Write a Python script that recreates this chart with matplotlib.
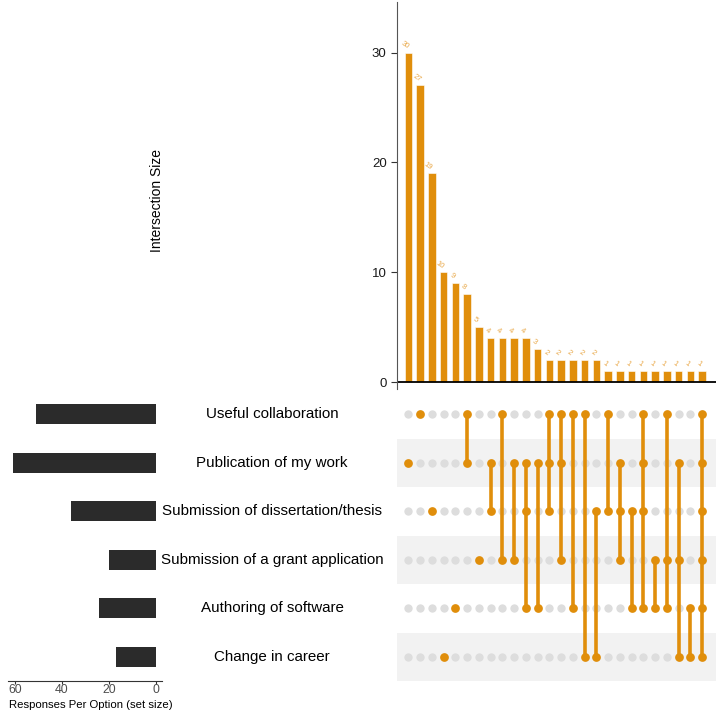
import numpy as np
import matplotlib
matplotlib.use("Agg")
import matplotlib.pyplot as plt
from matplotlib.transforms import blended_transform_factory

plt.rcParams["font.family"] = ["Liberation Sans", "DejaVu Sans"]

# -----------------------
# Data
# -----------------------
set_names = ["Useful collaboration", "Publication of my work",
             "Submission of dissertation/thesis", "Submission of a grant application",
             "Authoring of software", "Change in career"]

intersection_sizes = [30, 27, 19, 10, 9, 8, 5, 4, 4, 4, 4, 3, 2, 2, 2, 2, 2,
                      1, 1, 1, 1, 1, 1, 1, 1, 1]

# which sets (row index) take part in each intersection column
memberships = [[1], [0], [2], [5], [4], [0, 1], [3], [1, 2], [0, 3], [1, 3],
               [1, 2, 4], [1, 4], [0, 1, 2], [0, 1, 3], [0, 4], [0, 5], [2, 5],
               [0, 2], [1, 2, 3], [2, 4], [0, 1, 2, 4], [3, 4], [0, 3, 4],
               [1, 3, 5], [4, 5], [0, 1, 2, 3, 4, 5]]

set_sizes = [sum(s for s, m in zip(intersection_sizes, memberships) if i in m)
             for i in range(len(set_names))]

ORANGE = "#E08E0B"
LABEL_ORANGE = "#E9A94A"
GREY_DOT = "#DDDDDD"
DARK = "#2B2B2B"

W, H = 716, 711
fig = plt.figure(figsize=(W / 100, H / 100), dpi=100)

def box(x0, y0, x1, y1):
    # pixel box (top-left origin) -> figure fraction
    return [x0 / W, 1 - y1 / H, (x1 - x0) / W, (y1 - y0) / H]

n_cols = len(intersection_sizes)
n_rows = len(set_names)
xs = np.arange(n_cols)
XLIM = (-0.96, 26.17)

# -----------------------
# Intersection size bars
# -----------------------
ax_top = fig.add_axes(box(397, 2, 716, 388.6))
ax_top.bar(xs, intersection_sizes, width=0.64, color=ORANGE, edgecolor="white", linewidth=0.4)
for x, v in zip(xs, intersection_sizes):
    ax_top.text(x - 0.3, v + 0.65, str(v), fontsize=5.5, color=LABEL_ORANGE,
                rotation=-35, ha="center", va="center", rotation_mode="anchor")
ax_top.axhline(0, color="black", linewidth=1.3)
ax_top.set_xlim(*XLIM)
ax_top.set_ylim(-0.6, 34.6)
ax_top.set_xticks([])
ax_top.set_yticks([0, 10, 20, 30])
ax_top.tick_params(axis="y", labelsize=9.5, length=4, colors="#333333", labelcolor="#1a1a1a")
for side in ["top", "right", "bottom"]:
    ax_top.spines[side].set_visible(False)
ax_top.spines["left"].set_color("#555555")
fig.text(157 / W, 1 - 201 / H, "Intersection Size", rotation=90, fontsize=10,
         ha="center", va="center", color="black")

# -----------------------
# Matrix
# -----------------------
ax_m = fig.add_axes(box(397, 390, 716, 681))
ax_m.set_xlim(*XLIM)
ax_m.set_ylim(n_rows - 0.5, -0.5)
for r in range(n_rows):
    if r % 2 == 1:
        ax_m.axhspan(r - 0.5, r + 0.5, color="#F2F2F2", zorder=0, linewidth=0)
for c, m in enumerate(memberships):
    inactive = [r for r in range(n_rows) if r not in m]
    ax_m.plot([c] * len(inactive), inactive, "o", color=GREY_DOT, markersize=6,
              markeredgewidth=0, zorder=2)
    ax_m.plot([c, c], [min(m), max(m)], color=ORANGE, linewidth=2.6, zorder=3,
              solid_capstyle="butt")
    ax_m.plot([c] * len(m), m, "o", color=ORANGE, markersize=6.3,
              markeredgewidth=0, zorder=4)
ax_m.axis("off")

trans = blended_transform_factory(fig.transFigure, ax_m.transData)
for r, name in enumerate(set_names):
    ax_m.text(272 / W, r, name, transform=trans, ha="center", va="center",
              fontsize=10.9, color="black")

# -----------------------
# Set size bars
# -----------------------
ax_s = fig.add_axes(box(8, 390, 162, 681))
ax_s.barh(np.arange(n_rows), set_sizes, height=0.42, color=DARK)
ax_s.set_ylim(n_rows - 0.5, -0.5)
ax_s.set_xlim(63.0, -2.7)
ax_s.set_xticks([60, 40, 20, 0])
ax_s.set_yticks([])
ax_s.tick_params(axis="x", labelsize=8.8, length=2, colors="#333333", labelcolor="#4d4d4d", pad=0.5)
for side in ["top", "right", "left"]:
    ax_s.spines[side].set_visible(False)
ax_s.spines["bottom"].set_color("#333333")
ax_s.set_xlabel("Responses Per Option (set size)", fontsize=8.2, labelpad=0)
ax_s.xaxis.set_label_coords(83 / 154, -23.5 / 291)
ax_s.xaxis.label.set_va("center")

fig.savefig("out.png", dpi=100)
